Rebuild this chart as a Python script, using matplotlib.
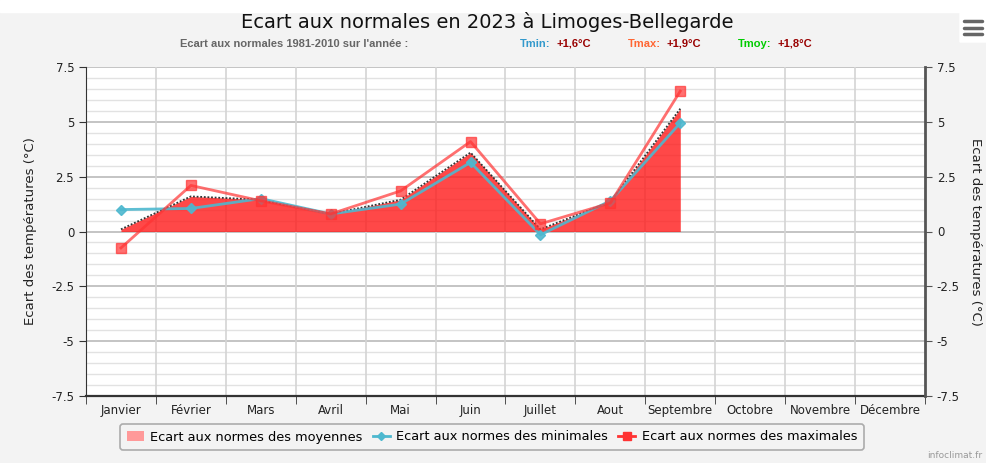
import matplotlib.pyplot as plt
from matplotlib.patches import Rectangle, FancyBboxPatch
from matplotlib.lines import Line2D
from matplotlib.patches import Patch
from matplotlib import font_manager

months = ['Janvier', 'Février', 'Mars', 'Avril', 'Mai', 'Juin', 'Juillet',
          'Aout', 'Septembre', 'Octobre', 'Novembre', 'Décembre']
tmin = [1.0, 1.05, 1.5, 0.8, 1.25, 3.15, -0.15, 1.4, 4.95]
tmax = [-0.75, 2.1, 1.4, 0.8, 1.85, 4.1, 0.35, 1.3, 6.4]
tmoy = [0.1, 1.6, 1.45, 0.8, 1.45, 3.6, 0.1, 1.35, 5.6]

names = {f.name for f in font_manager.fontManager.ttflist}
narrow = 'DejaVu Sans Condensed' if 'DejaVu Sans Condensed' in names else None
if narrow is None and 'Liberation Sans Narrow' in names:
    narrow = 'Liberation Sans Narrow'

fig = plt.figure(figsize=(9.86, 4.63), dpi=100)
fig.patch.set_facecolor('#f3f3f3')
# white strip on top
fig.patches.append(Rectangle((0, 1 - 12 / 463), 1, 12 / 463, transform=fig.transFigure,
                             color='white', zorder=0))

ax = fig.add_axes([86 / 986, 1 - 396 / 463, (925 - 86) / 986, (396 - 67) / 463])
ax.set_facecolor('white')

x = list(range(len(tmin)))

# grid
for v in [i * 0.5 - 7.5 for i in range(31)]:
    major = abs(v / 2.5 - round(v / 2.5)) < 1e-6
    ax.axhline(v, color='#c4c4c4' if major else '#e2e2e2', lw=1.4 if major else 1.0, zorder=0)
for b in range(1, 12):
    ax.axvline(b - 0.5, color='#d4d4d4', lw=1.2, zorder=0)

ax.fill_between(x, 0, tmoy, color='#ff1a1a', alpha=0.8, lw=0, zorder=2)
ax.plot(x, tmoy, color='#333333', lw=1.3, ls=(0, (1, 1)), zorder=3)
ax.plot(x, tmin, color='#4db8cf', lw=2, marker='D', ms=5, alpha=0.9, zorder=4)
ax.plot(x, tmax, color='#ff3333', lw=2, marker='s', ms=7, alpha=0.7, zorder=5)

ax.set_xlim(-0.5, 11.5)
ax.set_ylim(-7.5, 7.5)
ax.set_xticks(range(12))
ax.set_xticklabels(months, fontsize=8.5, color='#222222')
ax.tick_params(axis='x', which='major', length=0, pad=6)
ax.set_xticks([i - 0.5 for i in range(13)], minor=True)
ax.tick_params(axis='x', which='minor', length=6, color='#333333')
yt = [-7.5, -5, -2.5, 0, 2.5, 5, 7.5]
ytl = ['-7.5', '-5', '-2.5', '0', '2.5', '5', '7.5']
ax.set_yticks(yt)
ax.set_yticklabels(ytl, fontsize=8.5, color='#222222')
ax.tick_params(axis='y', length=5, color='#333333')
for s in ['top', 'right']:
    ax.spines[s].set_visible(False)
ax.spines['left'].set_color('#333333')
ax.spines['bottom'].set_color('#333333')
ax.spines['bottom'].set_linewidth(1.6)
ax.set_ylabel('Ecart des températures (°C)', fontsize=9.5, color='#222222', labelpad=10)

ax2 = ax.twinx()
ax2.set_ylim(-7.5, 7.5)
ax2.set_yticks(yt)
ax2.set_yticklabels(ytl, fontsize=8.5, color='#222222')
ax2.tick_params(axis='y', length=5, color='#555555')
for s in ['top', 'left', 'bottom']:
    ax2.spines[s].set_visible(False)
ax2.spines['right'].set_color('#555555')
ax2.spines['right'].set_linewidth(2)
ax2.set_ylabel('Ecart des températures (°C)', fontsize=9.5, color='#222222',
               rotation=-90, labelpad=16)

fig.text(0.494, 1 - 22 / 463, 'Ecart aux normales en 2023 à Limoges-Bellegarde',
         ha='center', va='center', fontsize=14, color='#111111')

# subtitle, pieces chained one after another
sy = 1 - 44 / 463
if narrow:
    sub = dict(fontsize=8.5, fontweight='bold', va='center', family=narrow)
else:
    sub = dict(fontsize=8, fontweight='bold', va='center', family='Liberation Sans')
fig.text(180 / 986, sy, "Ecart aux normales 1981-2010 sur l'année :", ha='left',
         color='#666666', **sub)
for xs, lab, col, val in [(520, 'Tmin:', '#3399cc', '+1,6°C'),
                          (628, 'Tmax:', '#ff6633', '+1,9°C'),
                          (738, 'Tmoy:', '#00cc00', '+1,8°C')]:
    t = fig.text(xs / 986, sy, lab, ha='left', color=col, **sub)
    fig.add_artist(plt.Annotation(val, xy=(1, 0.5), xycoords=t, xytext=(4, 0),
                                  textcoords='offset points', ha='left', color='#990000',
                                  **sub))

# hamburger icon
fig.patches.append(FancyBboxPatch((960 / 986, 1 - 42 / 463), 26 / 986, 30 / 463,
                                  boxstyle='round,pad=0', transform=fig.transFigure,
                                  color='white', zorder=1))
for yy in [21, 28, 34]:
    fig.lines.append(Line2D([964 / 986, 982 / 986], [1 - yy / 463] * 2, transform=fig.transFigure,
                            color='#666666', lw=2.5, solid_capstyle='round'))

fig.text(982 / 986, 1 - 455 / 463, 'infoclimat.fr', ha='right', va='center', fontsize=6.5,
         color='#999999')

handles = [
    Patch(facecolor='#ff9999', edgecolor='none', label='Ecart aux normes des moyennes'),
    Line2D([], [], color='#4db8cf', marker='D', ms=4, lw=2, label='Ecart aux normes des minimales'),
    Line2D([], [], color='#ff3333', marker='s', ms=6, lw=2, label='Ecart aux normes des maximales'),
]
leg = fig.legend(handles=handles, loc='center', bbox_to_anchor=(492 / 986, 1 - 437 / 463),
                 ncol=3, fontsize=9.3, frameon=True, fancybox=True, handlelength=1.3,
                 handletextpad=0.5, columnspacing=0.8, borderpad=0.5)
leg.get_frame().set_edgecolor('#999999')
leg.get_frame().set_linewidth(1.2)
leg.get_frame().set_facecolor('#f3f3f3')

fig.savefig('out.png', dpi=100, facecolor=fig.get_facecolor())
